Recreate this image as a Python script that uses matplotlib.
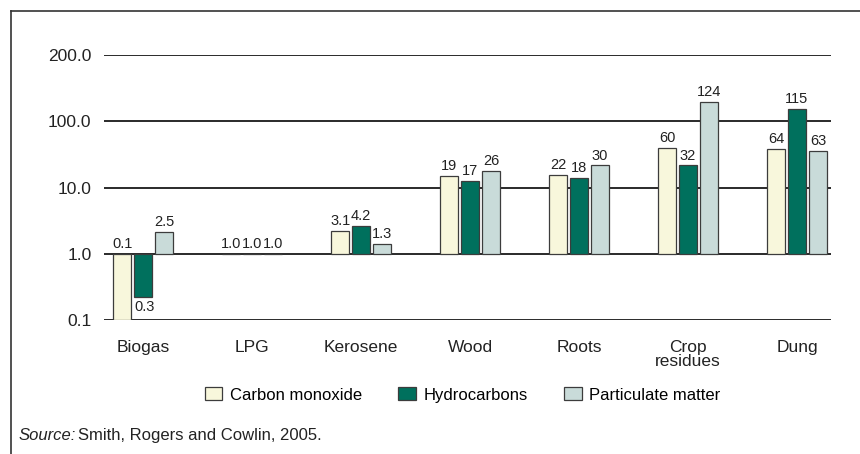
import numpy as np
import matplotlib
matplotlib.use('Agg')
import matplotlib.pyplot as plt
from matplotlib.lines import Line2D

plt.rcParams['font.family'] = ['Liberation Sans', 'DejaVu Sans']

fuels = ['Biogas', 'LPG', 'Kerosene', 'Wood', 'Roots', 'Crop\nresidues', 'Dung']
series = ['Carbon monoxide', 'Hydrocarbons', 'Particulate matter']

# bar heights as drawn (log axis), and the printed labels
co_height = [0.1, 1.0, 2.22, 14.8, 15.7, 39.7, 38.7]
hc_height = [0.22, 1.0, 2.64, 12.6, 14.0, 21.5, 155]
pm_height = [2.15, 1.0, 1.42, 17.6, 21.5, 196, 36.1]
co_label = ['0.1', '1.0', '3.1', '19', '22', '60', '64']
hc_label = ['0.3', '1.0', '4.2', '17', '18', '32', '115']
pm_label = ['2.5', '1.0', '1.3', '26', '30', '124', '63']

ytick_vals = [0.1, 1, 10, 100, 1000]
ytick_text = ['0.1', '1.0', '10.0', '100.0', '200.0']

colors = ['#f8f7dc', '#00705d', '#c9dbd9']
edge = '#3c3c3c'

fig = plt.figure(figsize=(8.6, 4.54), dpi=100)
ax = fig.add_axes([0.121, 0.295, 0.845, 0.584])

x = np.arange(len(fuels))
step = 0.193
width = 0.165
heights = [co_height, hc_height, pm_height]
labels = [co_label, hc_label, pm_label]

handles = []
for k in range(3):
    xs = x + (k - 1) * step
    h = np.array(heights[k])
    b = ax.bar(xs, h - 1, bottom=1, width=width, color=colors[k],
               edgecolor=edge, linewidth=0.9, zorder=3, label=series[k])
    handles.append(b)
    for xi, v, t in zip(xs, h, labels[k]):
        if v >= 1:
            ax.annotate(t, (xi, v), xytext=(0, 2), textcoords='offset points',
                        ha='center', va='bottom', fontsize=10.5, color='#222')
        elif v > 0.15:
            ax.annotate(t, (xi, v), xytext=(1, -2), textcoords='offset points',
                        ha='center', va='top', fontsize=10.5, color='#222')
        else:
            ax.annotate(t, (xi, 1), xytext=(0, 2), textcoords='offset points',
                        ha='center', va='bottom', fontsize=10.5, color='#222')

ax.set_yscale('log')
ax.set_ylim(0.1, 1000)
ax.set_xlim(-0.36, 6.31)
ax.set_yticks(ytick_vals)
ax.set_yticklabels(ytick_text)
ax.yaxis.set_minor_locator(matplotlib.ticker.NullLocator())
ax.set_xticks(x)
ax.set_xticklabels(fuels, linespacing=0.95)
ax.tick_params(axis='y', length=0, pad=9, labelsize=12.5, labelcolor='#222')
ax.tick_params(axis='x', length=0, pad=14, labelsize=12.5, labelcolor='#222')
for s in ax.spines.values():
    s.set_visible(False)
for yv in ytick_vals:
    ax.axhline(yv, color='#2a2a2a', linewidth=1.4, zorder=2)

fig.legend(handles=handles, labels=series, loc='center', bbox_to_anchor=(0.538, 0.13),
           ncol=3, frameon=False, fontsize=12, handlelength=1.05, handleheight=0.8,
           handletextpad=0.45, columnspacing=2.2)

# source line: italic lead-in followed by plain text
src = fig.text(0.021, 0.04, 'Source:', fontsize=12, va='center', style='italic', color='#222')
renderer = fig.canvas.get_renderer()
bb = src.get_window_extent(renderer=renderer)
fig.text((bb.x1 + 3) / fig.bbox.width, 0.04, 'Smith, Rogers and Cowlin, 2005.',
         fontsize=12, va='center', color='#222')

fig.add_artist(Line2D([11 / 860, 11 / 860], [0, 1 - 11 / 454], transform=fig.transFigure,
                      color='#333', linewidth=1.2))
fig.add_artist(Line2D([11 / 860, 1], [1 - 11 / 454, 1 - 11 / 454], transform=fig.transFigure,
                      color='#333', linewidth=1.2))

fig.savefig('out.png', dpi=100)
